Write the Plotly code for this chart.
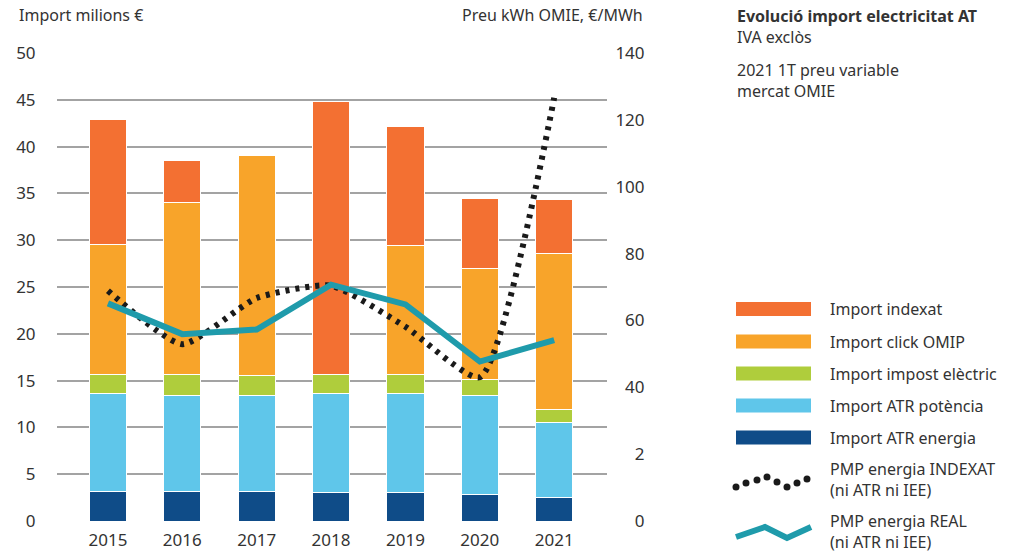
import plotly.graph_objects as go

# --- data -------------------------------------------------------------------
years = [2015, 2016, 2017, 2018, 2019, 2020, 2021]

# stacked bars, million € (bottom -> top)
atr_energia = [3.1, 3.1, 3.1, 3.0, 3.0, 2.85, 2.5]
atr_potencia = [10.5, 10.3, 10.3, 10.6, 10.6, 10.55, 8.0]
impost_electric = [2.0, 2.2, 2.1, 2.0, 2.0, 1.7, 1.4]
click_omip = [13.9, 18.4, 23.6, 0.0, 13.8, 11.85, 16.7]
indexat = [13.4, 4.5, 0.0, 29.2, 12.7, 7.55, 5.7]

# lines, €/MWh (right axis)
pmp_indexat = [68.9, 52.9, 66.7, 70.4, 58.1, 43.0, 126.6]
pmp_real = [65.1, 55.9, 57.3, 70.7, 64.8, 47.7, 54.1]

left_ticks = [0, 5, 10, 15, 20, 25, 30, 35, 40, 45, 50]
right_ticks = [0, 20, 40, 60, 80, 100, 120, 140]
right_ticktext = ["0", "2", "40", "60", "80", "100", "120", "140"]

bar_series = [
    ("Import ATR energia", atr_energia, "#0f4c88"),
    ("Import ATR potència", atr_potencia, "#5fc6ea"),
    ("Import impost elèctric", impost_electric, "#afcd3c"),
    ("Import click OMIP", click_omip, "#f8a42a"),
    ("Import indexat", indexat, "#f37032"),
]

FONT = "Noto Sans, Open Sans, sans-serif"
TXT = "#333333"

# plot area in pixels (1018x553 page)
L, R, T, B = 57, 607, 53, 521


def px(x, y):
    """pixel position -> paper coords"""
    return (x - L) / (R - L), (B - y) / (B - T)


fig = go.Figure()

for name, vals, col in bar_series:
    fig.add_trace(go.Bar(x=years, y=vals, name=name, width=0.5,
                         marker=dict(color=col, line=dict(color="white", width=1))))

fig.add_trace(go.Scatter(x=years, y=pmp_indexat, yaxis="y2", mode="lines",
                         name="PMP energia INDEXAT",
                         line=dict(color="#1a1a1a", width=6, dash="4px,6px",
                                   shape="spline", smoothing=0.55)))
fig.add_trace(go.Scatter(x=years, y=pmp_real, yaxis="y2", mode="lines",
                         name="PMP energia REAL",
                         line=dict(color="#1f9bab", width=6)))

fig.update_layout(
    width=1018, height=553,
    margin=dict(l=L, r=1018 - R, t=T, b=553 - B),
    barmode="stack", showlegend=False,
    plot_bgcolor="white", paper_bgcolor="white",
    font=dict(family=FONT, color=TXT, size=16),
    xaxis=dict(range=[2014.315, 2021.71], tickvals=years, showgrid=False,
               zeroline=False, ticks="outside", ticklen=4, tickcolor="rgba(0,0,0,0)",
               tickfont=dict(size=17), automargin=False),
    yaxis=dict(range=[0, 50], tickvals=left_ticks, showgrid=True,
               gridcolor="#a3a3a3", gridwidth=1.5, zeroline=False,
               ticks="outside", ticklen=17, tickcolor="rgba(0,0,0,0)",
               tickfont=dict(size=17), automargin=False),
    yaxis2=dict(range=[0, 140], overlaying="y", side="right",
                tickvals=right_ticks,
                ticktext=[t.rjust(3, "\u2007") for t in right_ticktext],
                showgrid=False, zeroline=False, ticks="outside", ticklen=4,
                tickcolor="rgba(0,0,0,0)", tickfont=dict(size=17), automargin=False),
)

annots = []


def text(x, y, s, size=16, anchor="left"):
    xp, yp = px(x, y)
    annots.append(dict(x=xp, y=yp, xref="paper", yref="paper", text=s, align="left",
                       showarrow=False, xanchor=anchor, yanchor="middle",
                       font=dict(size=size, color=TXT, family=FONT)))


# axis titles
text(17, 15, "Import milions €")
text(645, 15, "Preu kWh OMIE, €/MWh", anchor="right")

# title block
text(735, 27, "<b>Evolució import electricitat AT</b><br>IVA exclòs")
text(735, 80, "2021 1T preu variable<br>mercat OMIE")

# legend
shapes = []
legend_rows = [("Import indexat", "#f37032", 309), ("Import click OMIP", "#f8a42a", 341.5),
               ("Import impost elèctric", "#afcd3c", 373.5), ("Import ATR potència", "#5fc6ea", 405.5),
               ("Import ATR energia", "#0f4c88", 437.5)]
for name, col, yc in legend_rows:
    x0, y0 = px(736, yc - 7)
    x1, y1 = px(811, yc + 7)
    shapes.append(dict(type="rect", xref="paper", yref="paper", x0=x0, x1=x1, y0=y0, y1=y1,
                       fillcolor=col, line=dict(width=0)))
    text(828, yc, name)

# dotted legend symbol
dots = [(736, 487), (746, 483), (757, 480), (767, 477), (777, 482), (787, 487), (797, 483), (807, 479)]
for dx, dy in dots:
    x0, y0 = px(dx - 3.5, dy - 3.5)
    x1, y1 = px(dx + 3.5, dy + 3.5)
    shapes.append(dict(type="circle", xref="paper", yref="paper", x0=x0, x1=x1, y0=y0, y1=y1,
                       fillcolor="#1a1a1a", line=dict(width=0)))
text(828, 479, "PMP energia INDEXAT<br>(ni ATR ni IEE)")

# zigzag legend symbol
zz = [px(736, 537), px(765, 527), px(787, 538), px(811, 527)]
path = "M " + " L ".join(f"{x},{y}" for x, y in zz)
shapes.append(dict(type="path", xref="paper", yref="paper", path=path,
                   line=dict(color="#1f9bab", width=6)))
text(828, 531, "PMP energia REAL<br>(ni ATR ni IEE)")

fig.update_layout(annotations=annots, shapes=shapes)

# the page's default body margin would shift the chart by 8px
fig.write_html("out.html", config={"displayModeBar": False},
               post_script="document.body.style.margin='0';")
